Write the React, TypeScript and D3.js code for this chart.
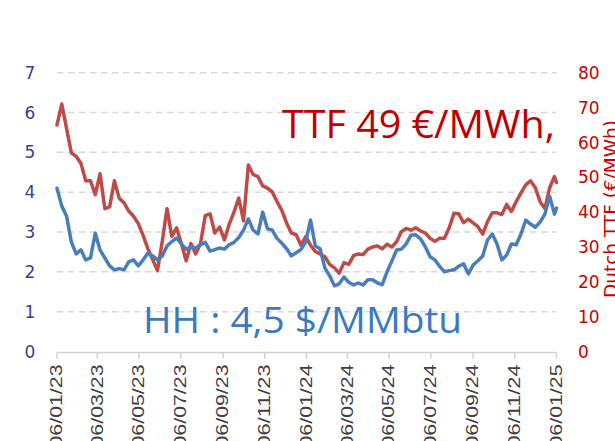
import React from "react";
import * as d3 from "d3";

const START = new Date(2023, 0, 6);
const END = new Date(2025, 0, 6);

// Weekly observations starting 06/01/23 (last point = 06/01/25)
const hhValues = [
  4.1, 3.65, 3.4, 2.75, 2.45, 2.55, 2.3, 2.35, 2.97, 2.55,
  2.35, 2.15, 2.05, 2.08, 2.05, 2.25, 2.3, 2.15, 2.3, 2.47,
  2.4, 2.3, 2.4, 2.65, 2.76, 2.85, 2.7, 2.57, 2.62, 2.6,
  2.68, 2.74, 2.52, 2.56, 2.6, 2.57, 2.68, 2.74, 2.86, 3.05,
  3.33, 3.05, 2.95, 3.5, 3.08, 3.05, 2.84, 2.72, 2.58, 2.4,
  2.48, 2.56, 2.75, 3.3, 2.65, 2.58, 2.1, 1.9, 1.65, 1.7,
  1.87, 1.74, 1.67, 1.72, 1.67, 1.8, 1.8, 1.72, 1.68, 2.0,
  2.27, 2.55, 2.57, 2.7, 2.92, 2.93, 2.83, 2.63, 2.38, 2.3,
  2.14, 2.0, 2.03, 2.05, 2.14, 2.2, 1.95, 2.17, 2.28, 2.4,
  2.8, 2.95, 2.7, 2.3, 2.42, 2.7, 2.68, 2.95, 3.3, 3.2,
  3.12, 3.25, 3.45, 3.9, 3.45, 3.6,
];

const ttfValues = [
  65, 71, 64, 57, 56, 54, 49, 49, 45, 51,
  41, 41.5, 49, 44, 42.7, 40.3, 38.8, 36.7, 33.3, 29.5,
  26.4, 23.2, 31.5, 41, 33, 35.5, 31, 26, 31, 28,
  31, 39, 39.5, 34, 35.7, 32, 36.5, 40, 44, 37.5,
  53.5, 50.8, 50.2, 47.5, 46.9, 45.8, 43, 40.5, 36.9, 34,
  33.5, 30.5, 33, 30.5, 28.7, 28, 27.2, 25, 24, 22.5,
  25.5, 25, 27.5, 28, 27.8, 29.4, 30, 30.3, 29.5, 30.8,
  30, 31.5, 34.4, 35.3, 34.8, 35.5, 34.6, 34, 32.5, 31.6,
  32.5, 32.5, 35.5, 39.7, 39.5, 37, 38, 36.9, 35.8, 33.7,
  37.3, 39.8, 39.8, 39.3, 42.2, 40.2, 43, 45.5, 47.8, 49,
  47, 43, 41, 47, 50.2, 48.5,
];

const leftTicks = [0, 1, 2, 3, 4, 5, 6, 7];
const rightTicks = [0, 10, 20, 30, 40, 50, 60, 70, 80];
const ttfLabel = "TTF 49 €/MWh,";
const hhLabel = "HH : 4,5 $/MMbtu";
const rightTitle = "Dutch TTF (€/MWh)";

const W = 615;
const H = 441;
const LEFT = 57;
const RIGHT = 556.5;
const TOP = 72.7;
const BOTTOM = 351.5;

const BLUE = "#4a7ebb";
const RED = "#be4b48";

export default function App() {
  const dates = hhValues.map((_, i) => {
    const d = d3.timeDay.offset(START, 7 * i);
    return d > END ? END : d;
  });
  const lastIsEnd = dates.map((d, i) => (i === dates.length - 1 ? END : d));

  const x = d3.scaleTime().domain([START, END]).range([LEFT, RIGHT]);
  const yL = d3.scaleLinear().domain([0, 7]).range([BOTTOM, TOP]);
  const yR = d3.scaleLinear().domain([0, 80]).range([BOTTOM, TOP]);

  const xTicks = d3.range(0, 13).map((i) => d3.timeMonth.offset(START, 2 * i));
  const fmt = d3.timeFormat("%d/%m/%y");

  const hhLine = d3
    .line<number>()
    .x((_, i) => x(lastIsEnd[i]))
    .y((d) => yL(d))
    .curve(d3.curveLinear);
  const ttfLine = d3
    .line<number>()
    .x((_, i) => x(lastIsEnd[i]))
    .y((d) => yR(d))
    .curve(d3.curveLinear);

  return (
    <svg
      width={W}
      height={H}
      style={{ position: "absolute", left: 0, top: 0, background: "#fff" }}
    >
      {/* grid */}
      {leftTicks
        .filter((t) => t > 0)
        .map((t) => (
          <line
            key={"g" + t}
            x1={LEFT}
            x2={RIGHT}
            y1={yL(t)}
            y2={yL(t)}
            stroke="#d9d9d9"
            strokeWidth={1.5}
            strokeDasharray="6.5,4.5"
          />
        ))}
      {/* x axis */}
      <line
        x1={LEFT}
        x2={RIGHT}
        y1={BOTTOM + 1}
        y2={BOTTOM + 1}
        stroke="#d0d0d0"
        strokeWidth={1.5}
      />
      {xTicks.map((t, i) => (
        <g key={"xt" + i}>
          <line
            x1={x(t)}
            x2={x(t)}
            y1={BOTTOM + 1}
            y2={BOTTOM + 7}
            stroke="#d0d0d0"
            strokeWidth={1.5}
          />
          <text
            transform={`translate(${x(t)},${BOTTOM + 13}) rotate(-90)`}
            textAnchor="end"
            dy="0.33em"
            fontFamily="Liberation Sans, Arial, sans-serif"
            fontSize={16}
            fill="#404040"
            textLength={83}
            lengthAdjust="spacingAndGlyphs"
          >
            {fmt(t)}
          </text>
        </g>
      ))}
      {/* left ticks */}
      {leftTicks.map((t) => (
        <text
          key={"l" + t}
          x={30}
          y={yL(t)}
          dy="0.36em"
          textAnchor="middle"
          fontFamily="DejaVu Sans, sans-serif"
          fontSize={17}
          fill="#3b3b9b"
        >
          {t}
        </text>
      ))}
      {/* right ticks */}
      {rightTicks.map((t) => (
        <text
          key={"r" + t}
          x={578}
          y={yR(t)}
          dy="0.36em"
          textAnchor="start"
          fontFamily="DejaVu Sans, sans-serif"
          fontSize={17}
          fill="#cc0000"
        >
          {t}
        </text>
      ))}
      <text
        transform={`translate(617,298) rotate(-90)`}
        textAnchor="start"
        fontFamily="DejaVu Sans, sans-serif"
        fontSize={17}
        fill="#cc0000"
        textLength={178}
        lengthAdjust="spacingAndGlyphs"
      >
        {rightTitle}
      </text>
      {/* series */}
      <path
        d={ttfLine(ttfValues) || ""}
        fill="none"
        stroke={RED}
        strokeWidth={3.5}
        strokeLinejoin="round"
        strokeLinecap="round"
      />
      <path
        d={hhLine(hhValues) || ""}
        fill="none"
        stroke={BLUE}
        strokeWidth={3.5}
        strokeLinejoin="round"
        strokeLinecap="round"
      />
      {/* annotations */}
      <text
        x={282}
        y={138}
        fontFamily="Open Sans, sans-serif"
        fontSize={38}
        fill="#c00000"
        textLength={273}
        lengthAdjust="spacingAndGlyphs"
      >
        {ttfLabel}
      </text>
      <text
        x={143}
        y={333}
        fontFamily="Open Sans, sans-serif"
        fontSize={37}
        fill="#3a7abf"
        textLength={319}
        lengthAdjust="spacingAndGlyphs"
      >
        {hhLabel}
      </text>
    </svg>
  );
}
